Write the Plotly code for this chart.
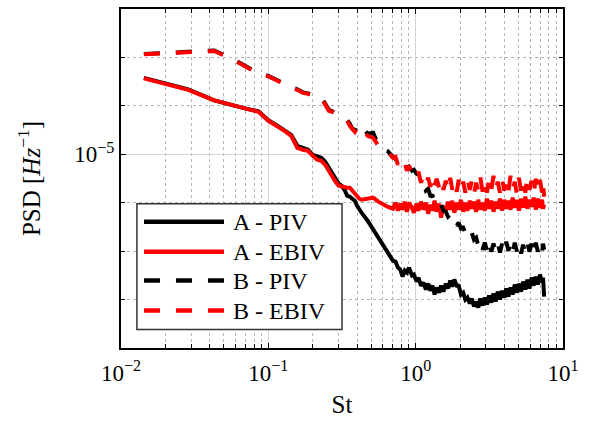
import plotly.graph_objects as go

# Strouhal number (shared frequency grid, sampled)
st = [0.0143, 0.0286, 0.0429, 0.0572, 0.0715, 0.0858, 0.1001, 0.1144, 0.1287, 0.143,
      0.1573, 0.1716, 0.1859, 0.2002, 0.2145, 0.2288, 0.2431, 0.2574, 0.2717, 0.286,
      0.3003, 0.3146, 0.3289, 0.3432, 0.3575, 0.3718, 0.3861, 0.4004, 0.4147, 0.429,
      0.4719, 0.5148, 0.5577, 0.6006,
      0.6435, 0.7007, 0.7293, 0.7579, 0.7865, 0.8151, 0.8437, 0.8723, 0.9009, 0.9438,
      0.9724, 1.0153, 1.0439, 1.0868, 1.1297, 1.1726, 1.2155, 1.2584, 1.3013, 1.3442,
      1.3871, 1.4443, 1.4872, 1.5444, 1.6016, 1.6588, 1.716, 1.7732, 1.8304, 1.9019,
      1.9591, 2.0306, 2.1021, 2.1736, 2.2451, 2.3309, 2.4024, 2.4882, 2.574, 2.6598,
      2.7456, 2.8457, 2.9458, 3.0459, 3.146, 3.2604, 3.3748, 3.4892, 3.6036, 3.7323,
      3.861, 3.9897, 4.1184, 4.2614, 4.4044, 4.5474, 4.7047, 4.862, 5.0193, 5.1909,
      5.3625, 5.5484, 5.7343, 5.9202, 6.1204, 6.3206, 6.5351, 6.7496, 6.9784, 7.2072,
      7.3216, 7.4503]

psd_a_piv = [3.78e-4, 2.19e-4, 1.30e-4, 1.02e-4, 8.67e-5, 7.70e-5, 5.02e-5, 3.96e-5, 3.20e-5, 2.52e-5,
             1.50e-5, 1.36e-5, 1.24e-5, 9.77e-6, 8.88e-6, 8.47e-6, 7.00e-6, 5.27e-6, 3.96e-6, 2.98e-6,
             2.46e-6, 2.24e-6, 1.85e-6, 1.39e-6, 1.33e-6, 1.21e-6, 1.10e-6, 8.67e-7, 7.17e-7, 6.22e-7,
             4.26e-7, 2.78e-7, 1.81e-7, 1.36e-7,
             8.88e-8, 6.37e-8, 6.08e-8, 4.57e-8, 4.16e-8, 2.98e-8, 3.96e-8, 3.60e-8, 4.57e-8, 3.13e-8,
             3.28e-8, 2.35e-8, 2.84e-8, 1.94e-8, 2.24e-8, 1.61e-8, 2.14e-8, 1.53e-8, 1.94e-8, 1.27e-8,
             1.77e-8, 1.39e-8, 1.94e-8, 1.46e-8, 2.14e-8, 1.69e-8, 2.46e-8, 1.85e-8, 2.59e-8, 1.94e-8,
             1.94e-8, 1.27e-8, 1.39e-8, 1.00e-8, 1.10e-8, 8.27e-9, 1.05e-8, 7.17e-9, 9.10e-9, 6.84e-9,
             1.05e-8, 7.52e-9, 1.10e-8, 7.89e-9, 1.21e-8, 8.67e-9, 1.33e-8, 9.10e-9, 1.46e-8, 1.00e-8,
             1.53e-8, 1.10e-8, 1.69e-8, 1.15e-8, 1.77e-8, 1.27e-8, 2.04e-8, 1.39e-8, 2.14e-8, 1.46e-8,
             2.35e-8, 1.61e-8, 2.59e-8, 1.69e-8, 2.84e-8, 1.94e-8, 2.98e-8, 2.04e-8, 3.28e-8, 2.24e-8,
             2.84e-8, 1.15e-8]

psd_a_ebiv = [3.69e-4, 2.14e-4, 1.30e-4, 1.02e-4, 8.47e-5, 7.52e-5, 4.91e-5, 3.87e-5, 3.05e-5, 2.41e-5,
              1.36e-5, 1.24e-5, 1.18e-5, 9.31e-6, 7.70e-6, 7.35e-6, 6.08e-6, 4.57e-6, 3.44e-6, 2.71e-6,
              2.24e-6, 2.14e-6, 2.04e-6, 2.04e-6, 2.04e-6, 1.77e-6, 1.46e-6, 1.33e-6, 1.21e-6, 1.15e-6,
              1.21e-6, 1.27e-6, 1.05e-6, 9.10e-7,
              8.27e-7, 7.52e-7, 1.00e-6, 6.84e-7, 9.54e-7, 7.17e-7, 1.05e-6, 6.52e-7, 1.00e-6, 7.89e-7,
              6.22e-7, 9.54e-7, 6.84e-7, 1.05e-6, 7.17e-7, 1.00e-6, 5.93e-7, 9.10e-7, 6.84e-7, 1.10e-6,
              6.52e-7, 9.54e-7, 4.91e-7, 8.67e-7, 6.84e-7, 1.05e-6, 7.17e-7, 1.10e-6, 6.22e-7, 1.00e-6,
              7.17e-7, 1.15e-6, 6.52e-7, 1.00e-6, 6.84e-7, 1.10e-6, 7.52e-7, 1.05e-6, 6.52e-7, 1.15e-6,
              7.17e-7, 1.00e-6, 6.84e-7, 1.21e-6, 7.52e-7, 1.10e-6, 6.52e-7, 1.05e-6, 7.52e-7, 1.21e-6,
              6.84e-7, 1.15e-6, 7.52e-7, 1.10e-6, 7.17e-7, 1.27e-6, 7.89e-7, 1.15e-6, 6.84e-7, 1.21e-6,
              7.89e-7, 1.33e-6, 7.52e-7, 1.15e-6, 8.27e-7, 1.27e-6, 7.17e-7, 1.21e-6, 7.89e-7, 1.15e-6,
              7.52e-7, 9.10e-7]

psd_b_piv = [1.18e-3, 1.33e-3, 1.39e-3, 9.31e-4, 6.22e-4, 4.68e-4, 4.16e-4, 3.36e-4, 2.78e-4, 2.46e-4,
             2.19e-4, 1.90e-4, 1.81e-4, 1.65e-4, 1.57e-4, 1.50e-4, 1.15e-4, 8.27e-5, 7.70e-5, 7.17e-5,
             6.84e-5, 6.22e-5, 5.66e-5, 5.14e-5, 4.26e-5, 3.36e-5, 3.05e-5, 4.06e-5, 4.26e-5, 3.69e-5,
             2.65e-5, 2.78e-5, 1.57e-5, 1.30e-5,
             1.18e-5, 8.88e-6, 8.08e-6, 6.68e-6, 7.35e-6, 6.08e-6, 5.79e-6, 5.02e-6, 5.53e-6, 4.57e-6,
             4.79e-6, 3.96e-6, 3.78e-6, 2.71e-6, 2.46e-6, 1.77e-6, 1.94e-6, 1.39e-6, 1.39e-6, 1.05e-6,
             1.15e-6, 8.67e-7, 9.10e-7, 6.84e-7, 6.52e-7, 5.14e-7, 5.66e-7, 4.06e-7, 4.26e-7, 3.36e-7,
             3.87e-7, 2.91e-7, 3.05e-7, 2.41e-7, 2.78e-7, 2.09e-7, 2.41e-7, 1.73e-7, 1.90e-7, 1.30e-7,
             1.65e-7, 1.07e-7, 1.50e-7, 1.02e-7, 1.57e-7, 9.77e-8, 1.43e-7, 1.02e-7, 1.50e-7, 9.31e-8,
             1.43e-7, 9.77e-8, 1.57e-7, 1.02e-7, 1.43e-7, 9.31e-8, 1.50e-7, 9.77e-8, 1.43e-7, 8.88e-8,
             1.36e-7, 9.31e-8, 1.50e-7, 9.77e-8, 1.43e-7, 8.88e-8, 1.50e-7, 9.77e-8, 1.36e-7, 9.31e-8,
             1.43e-7, 1.07e-7]

psd_b_ebiv = [1.16e-3, 1.30e-3, 1.36e-3, 9.10e-4, 6.08e-4, 4.57e-4, 4.06e-4, 3.28e-4, 2.71e-4, 2.41e-4,
              2.14e-4, 1.85e-4, 1.77e-4, 1.61e-4, 1.53e-4, 1.46e-4, 1.10e-4, 7.89e-5, 7.52e-5, 6.84e-5,
              6.52e-5, 5.93e-5, 5.39e-5, 4.91e-5, 3.87e-5, 3.20e-5, 2.91e-5, 3.69e-5, 3.87e-5, 3.52e-5,
              2.41e-5, 2.19e-5, 1.50e-5, 1.24e-5,
              1.13e-5, 8.47e-6, 8.88e-6, 6.08e-6, 7.35e-6, 5.53e-6, 6.37e-6, 4.57e-6, 5.79e-6, 4.16e-6,
              4.79e-6, 3.60e-6, 4.36e-6, 2.59e-6, 3.60e-6, 2.46e-6, 3.28e-6, 2.14e-6, 3.44e-6, 2.24e-6,
              3.13e-6, 2.04e-6, 2.98e-6, 1.85e-6, 2.84e-6, 1.77e-6, 3.28e-6, 1.85e-6, 2.71e-6, 1.69e-6,
              2.98e-6, 1.77e-6, 2.71e-6, 1.61e-6, 3.13e-6, 1.85e-6, 2.84e-6, 1.53e-6, 2.59e-6, 1.77e-6,
              3.44e-6, 1.69e-6, 2.84e-6, 1.61e-6, 2.98e-6, 1.77e-6, 3.60e-6, 1.85e-6, 2.71e-6, 1.61e-6,
              3.13e-6, 1.77e-6, 2.84e-6, 1.69e-6, 3.60e-6, 1.85e-6, 2.71e-6, 1.53e-6, 3.28e-6, 1.77e-6,
              2.98e-6, 1.61e-6, 3.44e-6, 1.85e-6, 2.84e-6, 1.53e-6, 3.13e-6, 1.69e-6, 2.98e-6, 1.61e-6,
              2.59e-6, 1.33e-6]

series_names = ["A - PIV", "A - EBIV", "B - PIV", "B - EBIV"]
series_values = [psd_a_piv, psd_a_ebiv, psd_b_piv, psd_b_ebiv]
series_colors = ["#000000", "#ff0000", "#000000", "#ff0000"]
series_dash = ["solid", "solid", "16px,16px", "16px,16px"]

x_tick_vals = [0.01, 0.1, 1, 10]
x_tick_text = ["10<sup>−2</sup>", "10<sup>−1</sup>", "10<sup>0</sup>", "10<sup>1</sup>"]
y_tick_vals = [1e-5]
y_tick_text = ["10<sup>−5</sup>"]

for v in series_values:
    assert len(v) == len(st), (len(v), len(st))

FONT = "Liberation Serif"
fig = go.Figure()
for name, vals, col, dash in zip(series_names, series_values, series_colors, series_dash):
    fig.add_trace(go.Scatter(x=st, y=vals, mode="lines", name=name, showlegend=False,
                             line=dict(color=col, width=4, dash=dash)))

x_minor = [m * 10.0 ** e for e in (-2, -1, 0) for m in range(2, 10)]
y_minor = [10.0 ** e for e in (-8, -7, -6, -4, -3)]

axis_common = dict(type="log", showline=True, linecolor="black", linewidth=2,
                   mirror="ticks", ticks="inside", ticklen=5, tickwidth=1, tickcolor="black",
                   showgrid=True, gridcolor="#d4d4d4", gridwidth=1, zeroline=False,
                   tickfont=dict(family=FONT, size=23, color="black"))

fig.update_xaxes(range=[-2, 1], tickmode="array", tickvals=x_tick_vals, ticktext=x_tick_text,
                 minor=dict(tickmode="array", tickvals=x_minor, ticks="inside", ticklen=4,
                            tickcolor="black", showgrid=True, gridcolor="#b5b5b5", griddash="dot"),
                 title=dict(text="St", font=dict(family=FONT, size=25, color="black"), standoff=11),
                 ticklabelstandoff=3, **axis_common)
fig.update_yaxes(range=[-9, -2], tickmode="array", tickvals=y_tick_vals, ticktext=y_tick_text,
                 minor=dict(tickmode="array", tickvals=y_minor, ticks="inside", ticklen=4,
                            tickcolor="black", showgrid=True, gridcolor="#b5b5b5", griddash="dot"),
                 title=dict(text="PSD [<i>Hz</i><sup>−1</sup>]", font=dict(family=FONT, size=25, color="black"),
                            standoff=27),
                 ticklabelstandoff=0, **axis_common)

# Legend (MATLAB-style long line samples)
shapes = [dict(type="rect", xref="paper", yref="paper", x0=0.036, x1=0.5, y0=0.0545, y1=0.4256,
               fillcolor="white", line=dict(color="#333333", width=1.5), layer="above")]
annotations = []
row_y = [0.3726, 0.2842, 0.1988, 0.1105]
for ry, name, col, dash in zip(row_y, series_names, series_colors, series_dash):
    shapes.append(dict(type="line", xref="paper", yref="paper", x0=0.052, x1=0.233, y0=ry, y1=ry,
                       line=dict(color=col, width=4.5, dash=dash), layer="above"))
    annotations.append(dict(xref="paper", yref="paper", x=0.2489, y=ry, text=name, showarrow=False,
                            xanchor="left", yanchor="middle",
                            font=dict(family=FONT, size=24, color="black")))

fig.update_layout(width=599, height=423, margin=dict(l=121, r=36, t=9, b=75, autoexpand=False),
                  paper_bgcolor="white", plot_bgcolor="white", showlegend=False,
                  shapes=shapes, annotations=annotations,
                  font=dict(family=FONT, size=23, color="black"))

fig.write_html("out.html")
